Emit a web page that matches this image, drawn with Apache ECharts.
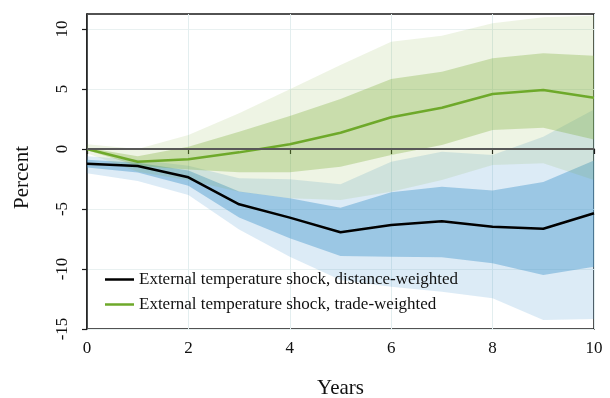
<!DOCTYPE html>
<html>
<head>
<meta charset="utf-8">
<script src="https://cdn.jsdelivr.net/npm/echarts@6/dist/echarts.min.js"></script>
<style>
html,body{margin:0;padding:0;background:#fff;}
#c{width:610px;height:398px;}
</style>
</head>
<body>
<div id="c"></div>
<script>
// Horizon (years)
const years = [0, 1, 2, 3, 4, 5, 6, 7, 8, 9, 10];
const xTicks = [0, 2, 4, 6, 8, 10];
const yTicks = [-15, -10, -5, 0, 5, 10];

// Distance-weighted shock (black line, blue bands)
const distMean    = [-1.22, -1.42, -2.36, -4.61, -5.72, -6.94, -6.33, -6.03, -6.47, -6.64, -5.36];
const distInnerHi = [-0.90, -1.15, -1.80, -3.55, -4.10, -4.89, -3.60, -3.14, -3.45, -2.75, -0.95];
const distInnerLo = [-1.55, -1.95, -3.06, -5.70, -7.44, -8.92, -8.97, -9.03, -9.53, -10.50, -9.81];
const distOuterHi = [-0.60, -0.90, -1.40, -2.44, -2.53, -2.94, -1.06, -0.22, -0.50, 1.03, 3.30];
const distOuterLo = [-2.03, -2.67, -3.83, -6.70, -8.97, -10.92, -11.47, -11.89, -12.44, -14.25, -14.17];

// Trade-weighted shock (green line, green bands)
const tradeMean    = [0.00, -1.06, -0.86, -0.28, 0.39, 1.36, 2.64, 3.44, 4.58, 4.92, 4.28];
const tradeInnerHi = [0.10, -0.60, 0.19, 1.44, 2.75, 4.17, 5.83, 6.44, 7.56, 7.97, 7.78];
const tradeInnerLo = [-0.10, -1.40, -1.70, -1.94, -1.94, -1.47, -0.50, 0.33, 1.58, 1.78, 0.80];
const tradeOuterHi = [0.40, 0.00, 1.17, 2.97, 4.97, 7.00, 8.94, 9.44, 10.47, 10.97, 11.10];
const tradeOuterLo = [-0.35, -1.90, -2.60, -3.56, -4.10, -4.25, -3.56, -2.58, -1.33, -1.19, -2.58];

const nameDist = 'External temperature shock, distance-weighted';
const nameTrade = 'External temperature shock, trade-weighted';

function pairs(vals) { return years.map((x, i) => [x, vals[i]]); }

// Confidence band drawn as one polygon through the axes' own scales
function band(id, lo, hi, color, z) {
  return {
    name: id, type: 'custom', z: z, silent: true,
    data: years.map((x, i) => [x, lo[i], hi[i]]),
    encode: { x: 0, y: [1, 2] },
    renderItem: function (params, api) {
      if (params.dataIndex !== 0) return null;
      const pts = [];
      for (let i = 0; i < years.length; i++) pts.push(api.coord([years[i], hi[i]]));
      for (let i = years.length - 1; i >= 0; i--) pts.push(api.coord([years[i], lo[i]]));
      return {
        type: 'polygon',
        shape: { points: pts },
        style: { fill: color, stroke: null }
      };
    }
  };
}

const series = [
  band('dOuter', distOuterLo, distOuterHi, 'rgba(70,150,205,0.19)', 1),
  band('dInner', distInnerLo, distInnerHi, 'rgba(70,150,205,0.43)', 1),
  band('tOuter', tradeOuterLo, tradeOuterHi, 'rgba(120,170,50,0.13)', 2),
  band('tInner', tradeInnerLo, tradeInnerHi, 'rgba(120,170,50,0.31)', 2),
  {
    name: 'zero', type: 'line', data: [], z: 3, silent: true,
    markLine: {
      silent: true, symbol: 'none', label: { show: false },
      lineStyle: { color: '#585858', width: 2, type: 'solid' },
      data: [{ yAxis: 0 }]
    }
  },
  {
    name: nameTrade, type: 'line', data: pairs(tradeMean), symbol: 'none', z: 4,
    color: '#6ea92a', lineStyle: { color: '#6ea92a', width: 2.5 }
  },
  {
    name: nameDist, type: 'line', data: pairs(distMean), symbol: 'none', z: 5,
    color: '#000000', lineStyle: { color: '#000000', width: 2.5 }
  }
];

const font = 'Liberation Serif';
const chart = echarts.init(document.getElementById('c'), null, { renderer: 'canvas' });
chart.setOption({
  animation: false,
  backgroundColor: '#ffffff',
  grid: {
    left: 87, right: 16, top: 14, bottom: 69,
    outerBoundsMode: 'none', containLabel: false,
    show: true, borderColor: '#1a1a1a', borderWidth: 1.5, backgroundColor: 'transparent'
  },
  legend: {
    data: [nameDist, nameTrade],
    orient: 'vertical', left: 100, top: 266,
    itemWidth: 29, itemHeight: 2.5, itemGap: 8, icon: 'rect',
    textStyle: { fontFamily: font, fontSize: 17, color: '#111' }
  },
  graphic: [{
    type: 'text', left: 12, top: 146, rotation: Math.PI / 2,
    style: { text: 'Percent', fontFamily: font, fontSize: 21, fill: '#111' }
  }],
  xAxis: {
    type: 'value', min: 0, max: 10, interval: 2,
    name: 'Years', nameLocation: 'middle', nameGap: 49,
    nameTextStyle: { fontFamily: font, fontSize: 21, color: '#111' },
    axisLine: { show: true, lineStyle: { color: '#1a1a1a', width: 1.5 } },
    axisTick: { show: true, length: 5, lineStyle: { color: '#1a1a1a', width: 1.2 } },
    axisLabel: { fontFamily: font, fontSize: 17, color: '#111', margin: 11 },
    splitLine: { show: true, lineStyle: { color: '#e3eeef', width: 1 } }
  },
  yAxis: {
    type: 'value', min: -15, max: 11.25, interval: 5,
    axisLine: { show: true, lineStyle: { color: '#1a1a1a', width: 1.5 } },
    axisTick: { show: true, length: 5, customValues: yTicks, lineStyle: { color: '#1a1a1a', width: 1.2 } },
    axisLabel: { fontFamily: font, fontSize: 17, color: '#111', rotate: 90, margin: 16, customValues: yTicks },
    splitLine: { show: true, lineStyle: { color: '#e9f1f1', width: 1 } }
  },
  series: series
});
</script>
</body>
</html>
